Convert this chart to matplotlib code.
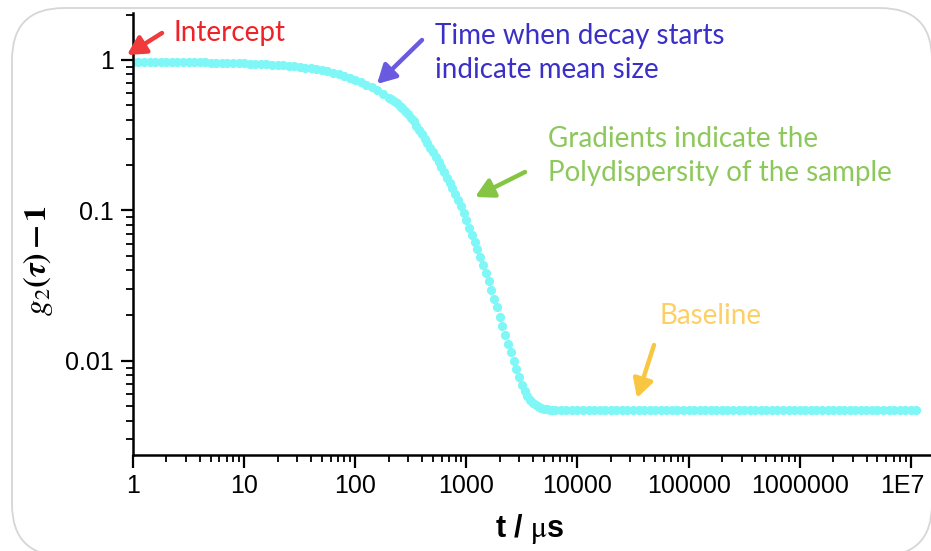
import matplotlib
matplotlib.use("Agg")
import matplotlib.pyplot as plt
from matplotlib.patches import FancyBboxPatch
from matplotlib.transforms import IdentityTransform, ScaledTranslation
from matplotlib.ticker import LogLocator, NullFormatter

# correlogram: delay time (us) and g2(tau) - 1
t_plateau = [1, 1.12, 1.26, 1.41, 1.58, 1.78, 2.0, 2.24, 2.51, 2.82,
             3.16, 3.55, 3.98, 4.47, 5.01, 5.62, 6.31, 7.08, 7.94, 8.91,
             10, 11.2, 12.6, 14.1, 15.8, 17.8, 20.0, 22.4, 25.1, 28.2,
             31.6, 35.5, 39.8, 44.7, 50.1, 56.2, 63.1, 70.8, 79.4, 89.1,
             100, 112, 126, 141, 158, 178]
g_plateau = [0.970, 0.970, 0.969, 0.969, 0.968, 0.968, 0.967, 0.967, 0.966, 0.965,
             0.964, 0.963, 0.962, 0.961, 0.960, 0.959, 0.957, 0.955, 0.953, 0.951,
             0.948, 0.945, 0.942, 0.938, 0.934, 0.929, 0.924, 0.918, 0.912, 0.905,
             0.897, 0.888, 0.878, 0.867, 0.854, 0.838, 0.820, 0.800, 0.779, 0.757,
             0.734, 0.710, 0.684, 0.656, 0.626, 0.595]

t_decay = [200, 211, 224, 237, 251, 266, 282, 299, 316, 335,
           355, 376, 398, 422, 447, 473, 501, 531, 562, 596,
           631, 668, 708, 750, 794, 841, 891, 944, 1000, 1059,
           1122, 1189, 1259, 1334, 1413, 1496, 1585, 1679, 1778, 1884,
           1995, 2113, 2239, 2371, 2512, 2661, 2818, 2985, 3162, 3350,
           3548, 3758, 3981, 4217, 4467, 4732, 5012, 5309, 5623, 5957,
           6310]
g_decay = [0.562, 0.547, 0.531, 0.514, 0.497, 0.478, 0.457, 0.436, 0.413, 0.390,
           0.366, 0.344, 0.321, 0.300, 0.280, 0.261, 0.243, 0.225, 0.209, 0.194,
           0.179, 0.165, 0.152, 0.140, 0.128, 0.117, 0.106, 0.0957, 0.0861, 0.0766,
           0.0689, 0.0617, 0.0550, 0.0489, 0.0434, 0.0384, 0.0339, 0.0297, 0.0259, 0.0226,
           0.0196, 0.0171, 0.0149, 0.0129, 0.0114, 0.0100, 0.00881, 0.00776, 0.00692, 0.00631,
           0.00582, 0.00546, 0.00521, 0.00504, 0.00491, 0.00483, 0.00479, 0.00475, 0.00473, 0.00472,
           0.00471]

t_base = [7.08e3, 7.94e3, 8.91e3, 1.00e4, 1.12e4, 1.26e4, 1.41e4, 1.58e4, 1.78e4, 2.00e4,
          2.24e4, 2.51e4, 2.82e4, 3.16e4, 3.55e4, 3.98e4, 4.47e4, 5.01e4, 5.62e4, 6.31e4,
          7.08e4, 7.94e4, 8.91e4, 1.00e5, 1.12e5, 1.26e5, 1.41e5, 1.58e5, 1.78e5, 2.00e5,
          2.24e5, 2.51e5, 2.82e5, 3.16e5, 3.55e5, 3.98e5, 4.47e5, 5.01e5, 5.62e5, 6.31e5,
          7.08e5, 7.94e5, 8.91e5, 1.00e6, 1.12e6, 1.26e6, 1.41e6, 1.58e6, 1.78e6, 2.00e6,
          2.24e6, 2.51e6, 2.82e6, 3.16e6, 3.55e6, 3.98e6, 4.47e6, 5.01e6, 5.62e6, 6.31e6,
          7.08e6, 7.94e6, 8.91e6, 1.00e7, 1.12e7]
g_base = [0.0047, 0.0047, 0.0047, 0.0047, 0.0047, 0.0047, 0.0047, 0.0047, 0.0047, 0.0047,
          0.0047, 0.0047, 0.0047, 0.0047, 0.0047, 0.0047, 0.0047, 0.0047, 0.0047, 0.0047,
          0.0047, 0.0047, 0.0047, 0.0047, 0.0047, 0.0047, 0.0047, 0.0047, 0.0047, 0.0047,
          0.0047, 0.0047, 0.0047, 0.0047, 0.0047, 0.0047, 0.0047, 0.0047, 0.0047, 0.0047,
          0.0047, 0.0047, 0.0047, 0.0047, 0.0047, 0.0047, 0.0047, 0.0047, 0.0047, 0.0047,
          0.0047, 0.0047, 0.0047, 0.0047, 0.0047, 0.0047, 0.0047, 0.0047, 0.0047, 0.0047,
          0.0047, 0.0047, 0.0047, 0.0047, 0.0047]

x_ticks = [1, 10, 100, 1000, 1e4, 1e5, 1e6, 1e7]
x_tick_labels = ["1", "10", "100", "1000", "10000", "100000", "1000000", "1E7"]
y_ticks = [0.01, 0.1, 1]
y_tick_labels = ["0.01", "0.1", "1"]

t = t_plateau + t_decay + t_base
g = g_plateau + g_decay + g_base

plt.rcParams["font.family"] = ["Liberation Sans", "DejaVu Sans"]
plt.rcParams["mathtext.fontset"] = "stix"

W, H = 931, 551
fig = plt.figure(figsize=(W / 100, H / 100), dpi=100)

# light rounded frame around the whole slide
frame = FancyBboxPatch(
    (12, -5), 920, 548,
    boxstyle="round,pad=0,rounding_size=52",
    transform=IdentityTransform(),
    facecolor="none",
    edgecolor="#d6d6d6",
    linewidth=1.3,
    zorder=0
)
fig.patches.append(frame)

ax = fig.add_axes([133 / W, 96 / H, 798 / W, 442 / H])
ax.patch.set_alpha(0)
ax.set_zorder(2)

ax.plot(
    t, g,
    linestyle="none",
    marker="o",
    markersize=6.6,
    markeredgewidth=0,
    color="#7ff7f7"
)

ax.set_xscale("log")
ax.set_yscale("log")
ax.set_xlim(1, 1.52e7)
ax.set_ylim(0.00236, 2.05)

ax.set_xticks(x_ticks, x_tick_labels)
ax.set_yticks(y_ticks, y_tick_labels)
ax.xaxis.set_minor_locator(LogLocator(base=10, subs=range(2, 10), numticks=50))
ax.yaxis.set_minor_locator(LogLocator(base=10, subs=range(2, 10), numticks=50))
ax.xaxis.set_minor_formatter(NullFormatter())
ax.yaxis.set_minor_formatter(NullFormatter())

ax.spines["top"].set_visible(False)
ax.spines["right"].set_visible(False)
for side in ["left", "bottom"]:
    ax.spines[side].set_linewidth(1.8)

ax.tick_params(which="major", direction="out", length=9, width=1.6,
               labelsize=18, pad=5)
ax.tick_params(which="minor", direction="out", length=5, width=1.3)

# last label sits against the right edge, nudge it in a little
last = ax.get_xticklabels()[-1]
last.set_transform(last.get_transform() + ScaledTranslation(-6 / 72, 0, fig.dpi_scale_trans))

ax.set_ylabel(r"$\boldsymbol{g_2(\tau) - 1}$", fontsize=23)
ax.yaxis.set_label_coords(-0.098, 0.44)
ax.set_xlabel(r"t / $\mathrm{\mu}$s", fontsize=22, fontweight="bold")
ax.xaxis.set_label_coords(0.4975, -0.13)

# annotations (positions in figure pixels)
note_font = "Lato"
arrow = dict(arrowstyle="-|>,head_length=0.55,head_width=0.3",
             mutation_scale=20, lw=3.2, shrinkA=0, shrinkB=0)

ax.annotate("", xy=(127, H - 55), xycoords="figure pixels",
            xytext=(162, H - 33), textcoords="figure pixels",
            arrowprops=dict(arrow, color="#ef3b3b"), annotation_clip=False)
fig.text(173 / W, 1 - 33 / H, "Intercept", color="#ee2228",
         fontsize=20, family=note_font, va="center", ha="left")

ax.annotate("", xy=(377, H - 84), xycoords="figure pixels",
            xytext=(422, H - 40), textcoords="figure pixels",
            arrowprops=dict(arrow, color="#6a5ae0"), annotation_clip=False)
fig.text(435 / W, 1 - 53 / H, "Time when decay starts\nindicate mean size",
         color="#3a30c8", fontsize=20, family=note_font, va="center",
         ha="left", linespacing=1.38)

ax.annotate("", xy=(475, H - 197), xycoords="figure pixels",
            xytext=(525, H - 172), textcoords="figure pixels",
            arrowprops=dict(arrow, color="#86c544"), annotation_clip=False)
fig.text(548 / W, 1 - 156 / H, "Gradients indicate the\nPolydispersity of the sample",
         color="#8cc85a", fontsize=20, family=note_font, va="center",
         ha="left", linespacing=1.38)

ax.annotate("", xy=(637, H - 398), xycoords="figure pixels",
            xytext=(654, H - 345), textcoords="figure pixels",
            arrowprops=dict(arrow, color="#f8c640"), annotation_clip=False)
fig.text(659 / W, 1 - 316 / H, "Baseline", color="#fcd064",
         fontsize=20, family=note_font, va="center", ha="left")

fig.savefig("out.png", dpi=100)
